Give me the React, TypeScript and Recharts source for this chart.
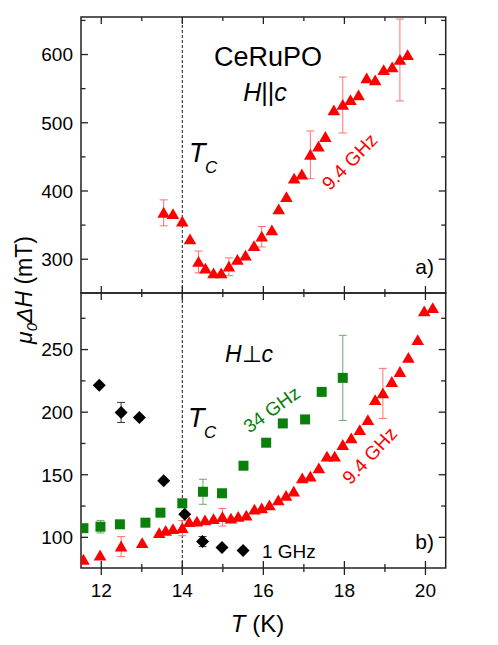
import React from "react";
import { ComposedChart, Scatter, XAxis, YAxis, ReferenceLine, ReferenceArea, ErrorBar } from "recharts";

const FONT = '"Liberation Sans", Arial, Helvetica, sans-serif';
const AXIS = "#222";
const RED = "#ff0000";
const GREEN = "#0a800a";

// panel a) H || c, 9.4 GHz
const tempA = [13.54, 13.77, 14.0, 14.19, 14.4, 14.57, 14.77, 14.96, 15.15, 15.36, 15.56, 15.77, 15.96, 16.21, 16.38, 16.57, 16.76, 16.95, 17.16, 17.36, 17.53, 17.74, 17.96, 18.15, 18.35, 18.55, 18.76, 18.97, 19.18, 19.37, 19.56];
const widthA = [368, 366, 355, 329, 296, 286, 279, 279, 289, 299, 305, 319, 333, 342, 373, 391, 418, 424, 453, 465, 479, 518, 526, 533, 540, 565, 562, 577, 581, 592, 599];
const errA = [19, null, null, null, 16, null, null, null, 13, null, null, null, 15, null, null, null, null, null, 35, null, null, null, 41, null, null, null, null, null, null, 60, null];

// panel b) H ⊥ c, 9.4 GHz
const tempB94 = [11.56, 11.97, 12.49, 13.01, 13.43, 13.59, 13.77, 14.0, 14.17, 14.36, 14.56, 14.77, 14.99, 15.2, 15.38, 15.58, 15.78, 15.96, 16.15, 16.37, 16.56, 16.75, 16.96, 17.16, 17.37, 17.57, 17.76, 17.96, 18.17, 18.38, 18.58, 18.76, 18.95, 19.17, 19.37, 19.58, 19.81, 19.97, 20.18];
const widthB94 = [82, 85.4, 92.6, 95.3, 103.3, 105, 106.5, 107.3, 112, 112.5, 113.5, 114.5, 116, 114.8, 116.2, 117.3, 122, 123, 125.5, 129.5, 133, 136.5, 147, 148.4, 155, 164.4, 164.4, 173.7, 179, 185.6, 193.6, 209.6, 215, 224, 232, 243.3, 257.4, 280.5, 283];
const errB94 = [null, null, 8, null, null, null, null, 6, null, null, null, null, 7, null, null, null, null, null, null, null, null, null, null, null, null, null, null, null, null, null, null, null, 20, null, null, null, null, null, null];

// panel b) 34 GHz
const tempB34 = [11.56, 11.98, 12.46, 13.09, 13.46, 14.0, 14.51, 14.98, 15.51, 16.07, 16.48, 17.03, 17.44, 17.96];
const widthB34 = [107.3, 108.5, 110.4, 111.7, 119.7, 127.2, 136.4, 135.2, 157.2, 175.6, 191, 194.2, 216.2, 227.4];
const errB34 = [null, 5, null, null, null, null, 10, null, null, null, null, null, null, 34];

// panel b) 1 GHz
const tempB1 = [11.95, 12.49, 12.94, 13.54, 14.06, 14.5, 14.98, 15.5];
const widthB1 = [221.5, 199.8, 195.8, 145.2, 118.4, 96.6, 91.8, 89.4];
const errB1 = [null, 8, null, null, null, 4, null, null];

const xTicks = [12, 13, 14, 15, 16, 17, 18, 19, 20];
const xMajor = [12, 14, 16, 18, 20];
const yTicksA = [300, 350, 400, 450, 500, 550, 600, 650];
const yMajorA = [300, 400, 500, 600];
const yTicksB = [100, 125, 150, 175, 200, 225, 250, 275];
const yMajorB = [100, 150, 200, 250];

const rows = (t: number[], w: number[], e: (number | null)[]) =>
  t.map((x, i) => ({ t: x, w: w[i], e: e[i] ?? undefined }));

const dataA = rows(tempA, widthA, errA);
const dataB94 = rows(tempB94, widthB94, errB94);
const dataB34 = rows(tempB34, widthB34, errB34);
const dataB1 = rows(tempB1, widthB1, errB1);

const PL = 81;
const PR = 445.7;
const W = 498;

const Triangle = ({ cx, cy }: any) => (
  <polygon points={`${cx},${cy - 6} ${cx + 6.3},${cy + 4.8} ${cx - 6.3},${cy + 4.8}`} fill={RED} />
);
const Square = ({ cx, cy }: any) => <rect x={cx - 5} y={cy - 5} width={10} height={10} fill={GREEN} />;
const Diamond = ({ cx, cy }: any) => (
  <polygon points={`${cx},${cy - 6.5} ${cx + 6.5},${cy} ${cx},${cy + 6.5} ${cx - 6.5},${cy}`} fill="#000" />
);

function YTick({ y, payload, majors }: any) {
  const major = majors.includes(payload.value);
  const len = major ? 7 : 4.5;
  return (
    <g>
      <line x1={PL} x2={PL + len} y1={y} y2={y} stroke={AXIS} strokeWidth={1.3} />
      <line x1={PR - len} x2={PR} y1={y} y2={y} stroke={AXIS} strokeWidth={1.3} />
      {major && (
        <text x={PL - 8} y={y} dy={6.8} textAnchor="end" fontSize={19} fontFamily={FONT} fill="#000">
          {payload.value}
        </text>
      )}
    </g>
  );
}

function XTick({ x, payload, top, bottom, labels }: any) {
  const major = xMajor.includes(payload.value);
  const len = major ? 7 : 4;
  return (
    <g>
      <line x1={x} x2={x} y1={top} y2={top + len} stroke={AXIS} strokeWidth={1.3} />
      <line x1={x} x2={x} y1={bottom - len} y2={labels ? bottom + len : bottom} stroke={AXIS} strokeWidth={1.3} />
      {labels && major && (
        <text x={x} y={bottom + 29} textAnchor="middle" fontSize={19} fontFamily={FONT} fill="#000">
          {payload.value}
        </text>
      )}
    </g>
  );
}

const tcLine = <ReferenceLine x={14} stroke="#000" strokeWidth={0.9} strokeDasharray="3 2" />;

export default function App() {
  return (
    <div style={{ position: "absolute", left: 0, top: 0, width: W, height: 645, background: "#fff", fontFamily: FONT }}>
      <div style={{ position: "absolute", left: 0, top: 0 }}>
        <ComposedChart width={W} height={294} margin={{ top: 17, right: W - PR, bottom: 0, left: 0 }}>
          <XAxis type="number" dataKey="t" domain={[11.5, 20.5]} ticks={xTicks} interval={0} allowDataOverflow
            height={1} axisLine={false} tickLine={false}
            tick={(p: any) => <XTick {...p} top={17} bottom={293} labels={false} />} />
          <YAxis type="number" dataKey="w" domain={[250.5, 655]} ticks={yTicksA} interval={0} allowDataOverflow
            width={PL} axisLine={false} tickLine={false}
            tick={(p: any) => <YTick {...p} majors={yMajorA} />} />
          {tcLine}
          <Scatter data={dataA} shape={Triangle} isAnimationActive={false}>
            <ErrorBar dataKey="e" direction="y" width={4} stroke="#ff7070" strokeWidth={1} />
          </Scatter>
          <ReferenceArea x1={11.5} x2={20.5} y1={250.5} y2={655} fill="none" stroke={AXIS} strokeWidth={1.5} ifOverflow="visible" />
        </ComposedChart>
      </div>
      <div style={{ position: "absolute", left: 0, top: 283 }}>
        <ComposedChart width={W} height={362} margin={{ top: 10, right: W - PR, bottom: 0, left: 0 }}>
          <XAxis type="number" dataKey="t" domain={[11.5, 20.5]} ticks={xTicks} interval={0} allowDataOverflow
            height={77} axisLine={false} tickLine={false}
            tick={(p: any) => <XTick {...p} top={10} bottom={285} labels />} />
          <YAxis type="number" dataKey="w" domain={[75.5, 295.2]} ticks={yTicksB} interval={0} allowDataOverflow
            width={PL} axisLine={false} tickLine={false}
            tick={(p: any) => <YTick {...p} majors={yMajorB} />} />
          {tcLine}
          <Scatter data={dataB1} shape={Diamond} isAnimationActive={false}>
            <ErrorBar dataKey="e" direction="y" width={4} stroke="#333" strokeWidth={1} />
          </Scatter>
          <Scatter data={dataB34} shape={Square} isAnimationActive={false}>
            <ErrorBar dataKey="e" direction="y" width={4} stroke="#6aaa6a" strokeWidth={1} />
          </Scatter>
          <Scatter data={dataB94} shape={Triangle} isAnimationActive={false}>
            <ErrorBar dataKey="e" direction="y" width={4} stroke="#ff7070" strokeWidth={1} />
          </Scatter>
          <ReferenceArea x1={11.5} x2={20.5} y1={75.5} y2={295.2} fill="none" stroke={AXIS} strokeWidth={1.5} ifOverflow="visible" />
        </ComposedChart>
      </div>
      <svg width={W} height={645} style={{ position: "absolute", left: 0, top: 0, pointerEvents: "none" }}
        fontFamily={FONT}>
        <text x={268} y={66} textAnchor="middle" fontSize={27} fill="#000">CeRuPO</text>
        <text x={265} y={101} textAnchor="middle" fontSize={25} fill="#000">
          <tspan fontStyle="italic">H</tspan>||<tspan fontStyle="italic">c</tspan>
        </text>
        <text x={189} y={162} fontSize={27} fontStyle="italic" fill="#000">T</text>
        <text x={205} y={173} fontSize={17} fontStyle="italic" fill="#000">C</text>
        <text x={0} y={0} transform="translate(350,162) rotate(-46)" textAnchor="middle" dy={6} fontSize={19} fill={RED}>9.4 GHz</text>
        <text x={434} y={274} textAnchor="end" fontSize={21} fill="#000">a)</text>

        <text x={249} y={362} textAnchor="middle" fontSize={23} fill="#000">
          <tspan fontStyle="italic">H</tspan>⊥<tspan fontStyle="italic">c</tspan>
        </text>
        <text x={188} y={427} fontSize={27} fontStyle="italic" fill="#000">T</text>
        <text x={204} y={438} fontSize={17} fontStyle="italic" fill="#000">C</text>
        <text x={0} y={0} transform="translate(272,410) rotate(-36)" textAnchor="middle" dy={6} fontSize={19} fill={GREEN}>34 GHz</text>
        <text x={0} y={0} transform="translate(370,456) rotate(-47)" textAnchor="middle" dy={6} fontSize={19} fill={RED}>9.4 GHz</text>
        <text x={262} y={558} fontSize={19} fill="#000">1 GHz</text>
        <text x={434} y={549} textAnchor="end" fontSize={21} fill="#000">b)</text>

        <text x={257.5} y={632} textAnchor="middle" fontSize={24} fill="#000">
          <tspan fontStyle="italic">T</tspan> (K)
        </text>
        <text x={0} y={0} transform="translate(32,290) rotate(-90)" textAnchor="middle" fontSize={23} fill="#000">
          <tspan fontStyle="italic">μ</tspan>
          <tspan fontStyle="italic" fontSize={15} dy={5}>0</tspan>
          <tspan fontStyle="italic" dy={-5}>ΔH</tspan>
          <tspan> (mT)</tspan>
        </text>
      </svg>
    </div>
  );
}
